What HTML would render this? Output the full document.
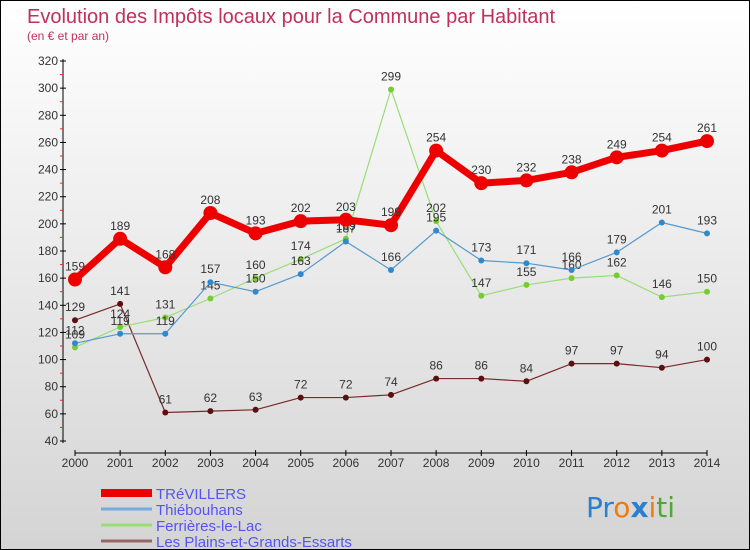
<!DOCTYPE html>
<html><head><meta charset="utf-8"><style>
body{margin:0}
#c{width:750px;height:550px;position:relative;background:linear-gradient(#ffffff,#d4d4d4);box-sizing:border-box;border:1px solid #000;overflow:hidden;font-family:"Liberation Sans",sans-serif}
svg{position:absolute;left:0;top:0}
</style></head><body>
<div id="c">
<svg id="s" width="750" height="550">
<text x="26" y="22" font-size="20" fill="#c0305a">Evolution des Impôts locaux pour la Commune par Habitant</text>
<text x="26" y="39" font-size="12" fill="#c0305a">(en € et par an)</text>
<line x1="62" y1="58" x2="62" y2="442" stroke="#000"/>
<line x1="74" y1="452" x2="706" y2="452" stroke="#000"/>
<g id="legend"></g>
<text x="585" y="516" font-size="28" font-family="'DejaVu Sans',sans-serif"><tspan fill="#2a7fd0">Pr</tspan><tspan fill="#f07a10">o</tspan><tspan fill="#2a7fd0" font-weight="bold">x</tspan><tspan fill="#f07a10">i</tspan><tspan fill="#4caa30">ti</tspan></text>
</svg>
</div>
<script>
const years=["2000","2001","2002","2003","2004","2005","2006","2007","2008","2009","2010","2011","2012","2013","2014"];
const yTicks=[40,60,80,100,120,140,160,180,200,220,240,260,280,300,320];
const trevillers=[159,189,168,208,193,202,203,199,254,230,232,238,249,254,261];
const thiebouhans=[112,119,119,157,150,163,187,166,195,173,171,166,179,201,193];
const ferrieres=[109,124,131,145,160,174,189,299,202,147,155,160,162,146,150];
const plains=[129,141,61,62,63,72,72,74,86,86,84,97,97,94,100];
const seriesNames=["TRéVILLERS","Thiébouhans","Ferrières-le-Lac","Les Plains-et-Grands-Essarts"];
const NS="http://www.w3.org/2000/svg";
const svg=document.getElementById('s');
function xs(i){return 74+i*(706-74)/(years.length-1);}
function ys(v){return 440-(v-40)*380/280;}
function mk(t,a,p){const e=document.createElementNS(NS,t);for(const k in a)e.setAttribute(k,a[k]);(p||svg).appendChild(e);return e;}
yTicks.forEach((v,i)=>{
  const l=mk('line',{x1:59,x2:65,y1:ys(v),y2:ys(v),stroke:'#000'});
  
  
  if(i<yTicks.length-1){const m=mk('line',{x1:59,x2:62,y1:ys(v+10),y2:ys(v+10),stroke:'#e03030'});
  
  }
  const t=mk('text',{x:57,y:ys(v)+4,'font-size':12,fill:'#333','text-anchor':'end'});
  
  
  t.textContent=v;
});
years.forEach((y,i)=>{
  const l=mk('line',{x1:xs(i),x2:xs(i),y1:449,y2:455,stroke:'#000'});
  
  
  const t=mk('text',{x:xs(i),y:466,'font-size':12,fill:'#333','text-anchor':'middle'});
  
  
  t.textContent=y;
});
function series(data,color,w,r,dot,name){
  const g=mk('g',{});
  
  
  const pl=mk('polyline',{points:data.map((v,i)=>xs(i)+','+ys(v)).join(' '),fill:'none',stroke:color,'stroke-width':w,'stroke-linejoin':'round'},g);
  
  
  data.forEach((v,i)=>{
    const c=mk('circle',{cx:xs(i),cy:ys(v),r:r,fill:dot},g);
    
    
    const t=mk('text',{x:xs(i),y:ys(v)-9,'font-size':12,fill:'#333','text-anchor':'middle'},g);
    
    
    t.textContent=v;
  });
}
series(plains,'#7a2a2a',1.2,3,'#5a1010','series-plains');
series(ferrieres,'#99dd77',1.2,3,'#77cc33','series-ferrieres');
series(thiebouhans,'#5599cc',1.2,3,'#3388cc','series-thiebouhans');
series(trevillers,'#ee0000',7,7,'#ee0000','series-trevillers');
const lc=['#ee0000','#77aadd','#99dd77','#996666'];
const lw=[8,3,3,3];
seriesNames.forEach((n,i)=>{
  const y=492+i*16;
  const l=mk('line',{x1:100,x2:151,y1:y,y2:y,stroke:lc[i],'stroke-width':lw[i]});
  
  
  const t=mk('text',{x:155,y:y+6,'font-size':15,fill:'#5555ee'});
  
  
  t.textContent=n;
});
</script>
</body></html>
